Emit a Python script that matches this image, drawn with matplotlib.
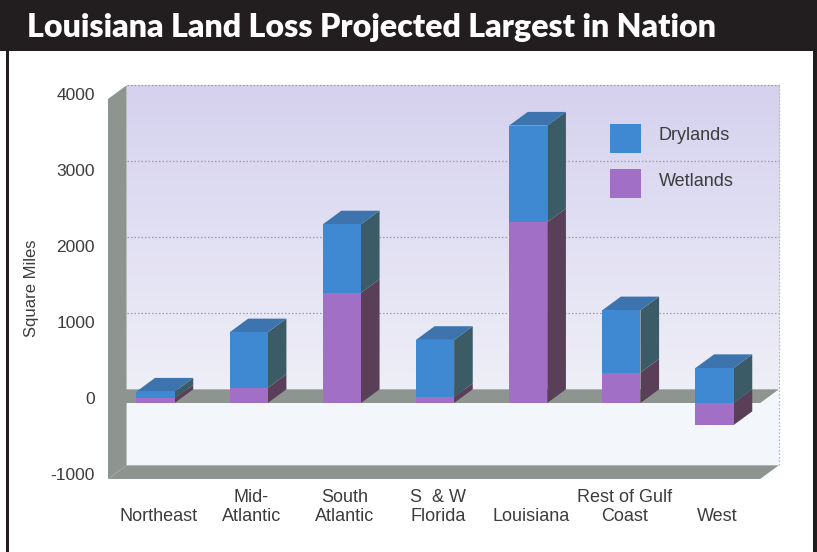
import matplotlib
matplotlib.use("Agg")
import matplotlib.pyplot as plt
import matplotlib.transforms as mtransforms
from matplotlib.patches import Polygon, Rectangle
import numpy as np

# ---- data (square miles of projected land loss) ----
regions = ["Northeast", "Mid-\nAtlantic", "South\nAtlantic", "S  & W\nFlorida",
           "Louisiana", "Rest of Gulf\nCoast", "West"]
wetlands = [60, 200, 1450, 80, 2380, 400, -290]
drylands = [90, 730, 900, 750, 1270, 820, 460]
y_ticks = [4000, 3000, 2000, 1000, 0, -1000]
series_names = ["Drylands", "Wetlands"]
title = "Louisiana Land Loss Projected Largest in Nation"
y_label = "Square Miles"

# ---- styling ----
W, H, DPI = 817, 552, 100
TEXT = "#3c3c3c"
FONT = ["Liberation Sans", "DejaVu Sans"]
DRY_FRONT, DRY_SIDE, DRY_TOP = "#3f88d2", "#3b5b66", "#3d74ad"
WET_FRONT, WET_SIDE, WET_TOP = "#a26fc6", "#5a3f58", "#7d559c"
SLAB = "#8e948f"

fig = plt.figure(figsize=(W / DPI, H / DPI), dpi=DPI)
fig.patch.set_facecolor("white")
ax = fig.add_axes([0, 0, 1, 1])

# axes spans the whole figure; category spacing and value scale set via limits
px_per_cat, px_per_unit = 93.17, 0.076
x0_px, y0_px = 155.5, 403
ax.set_xlim(-x0_px / px_per_cat, (W - x0_px) / px_per_cat)
ax.set_ylim((y0_px - H) / px_per_unit, y0_px / px_per_unit)
ax.axis("off")

DX, DY = 0.20, 180          # depth offset of the 3-D box (category units, sq mi)
xL, xR = -0.51, 6.49        # front edges of the chart box
ymin, ymax = -1000, 4000
bw = 0.41

# back wall with a lavender-to-white gradient
vals = np.linspace(ymax, ymin, 400)
top_c = np.array([0.835, 0.820, 0.935])
mid_c = np.array([0.935, 0.935, 0.970])
low_c = np.array([0.955, 0.966, 0.988])
grad = np.array([top_c + (mid_c - top_c) * (ymax - v) / ymax if v > 0 else low_c
                 for v in vals])
ax.imshow(grad[:, None, :], extent=[xL + DX, xR + DX, ymin + DY, ymax + DY],
          aspect="auto", zorder=0, interpolation="bilinear")

# dotted gridlines on the back wall
for v in [1000, 2000, 3000, 4000]:
    ax.plot([xL + DX, xR + DX], [v + DY, v + DY], color="#9c9cae",
            lw=0.9, ls=(0, (1.2, 1.6)), zorder=1)
ax.plot([xR + DX, xR + DX], [ymin + DY, ymax + DY], color="#b4b4c4",
        lw=0.9, ls=(0, (1.2, 1.6)), zorder=1)

# left wall, floor and zero plane
ax.add_patch(Polygon([(xL, ymin), (xL, ymax), (xL + DX, ymax + DY), (xL + DX, ymin + DY)],
                     closed=True, facecolor=SLAB, edgecolor="none", zorder=2))
for base in (ymin, 0):
    ax.add_patch(Polygon([(xL, base), (xR, base), (xR + DX, base + DY), (xL + DX, base + DY)],
                         closed=True, facecolor=SLAB, edgecolor="none", zorder=3))

# stacked 3-D bars: wetlands first, drylands on top (negatives stack downward)
x = np.arange(len(regions))
wet = np.array(wetlands, dtype=float)
dry = np.array(drylands, dtype=float)
wet_bottom = np.zeros_like(wet)
dry_bottom = np.where((wet >= 0) == (dry >= 0), wet, 0.0)

ax.bar(x, wet, bottom=wet_bottom, width=bw, color=WET_FRONT, zorder=5, linewidth=0)
ax.bar(x, dry, bottom=dry_bottom, width=bw, color=DRY_FRONT, zorder=5, linewidth=0)

for xi, wv, wb, dv, db in zip(x, wet, wet_bottom, dry, dry_bottom):
    right = xi + bw / 2
    segs = [(wb, wb + wv, WET_SIDE, WET_TOP), (db, db + dv, DRY_SIDE, DRY_TOP)]
    for y0, y1, side, _ in segs:
        lo, hi = min(y0, y1), max(y0, y1)
        ax.add_patch(Polygon([(right, lo), (right + DX, lo + DY),
                              (right + DX, hi + DY), (right, hi)],
                             closed=True, facecolor=side, edgecolor="none", zorder=4))
    # top face on the highest segment
    tops = [(max(y0, y1), topc) for y0, y1, _, topc in segs]
    t, topc = max(tops, key=lambda p: p[0])
    ax.add_patch(Polygon([(xi - bw / 2, t), (right, t), (right + DX, t + DY),
                          (xi - bw / 2 + DX, t + DY)],
                         closed=True, facecolor=topc, edgecolor="none", zorder=4))

# value axis labels
ytrans = mtransforms.blended_transform_factory(fig.transFigure, ax.transData)
for v in y_ticks:
    ax.text(95 / W, v + 40, f"{v}", transform=ytrans, ha="right", va="center",
            fontsize=12.5, color=TEXT, family=FONT)

# category labels, bottom lines aligned
xtrans = mtransforms.blended_transform_factory(ax.transData, fig.transFigure)
for xi, name in zip(x, regions):
    lbl = name if "\n" in name else "\n" + name
    ax.text(xi + 0.03, 1 - 489 / H, lbl, transform=xtrans, ha="center", va="top",
            fontsize=13, color=TEXT, family=FONT, linespacing=1.12,
            multialignment="center")

fig.text(32 / W, 1 - 288 / H, y_label, rotation=90, ha="center", va="center",
         fontsize=12, color=TEXT, family=FONT)

# legend
for name, col, ytop in zip(series_names, [DRY_FRONT, WET_FRONT], [124, 169]):
    fig.add_artist(Rectangle((610 / W, 1 - (ytop + 29) / H), 31 / W, 29 / H,
                             transform=fig.transFigure, facecolor=col, edgecolor="none"))
    fig.text(659 / W, 1 - (ytop + 12) / H, name, ha="left", va="center",
             fontsize=13, color=TEXT, family=FONT)

# title band and frame
fig.add_artist(Rectangle((0, 1 - 51 / H), 1, 51 / H, transform=fig.transFigure,
                         facecolor="#221e1f", edgecolor="none"))
fig.add_artist(Rectangle((6 / W, 0), 2.5 / W, 1 - 51 / H, transform=fig.transFigure,
                         facecolor="#221e1f", edgecolor="none"))
fig.add_artist(Rectangle((813 / W, 0), 4 / W, 1 - 51 / H, transform=fig.transFigure,
                         facecolor="#221e1f", edgecolor="none"))
t = fig.text(27 / W, 1 - 37 / H, title, ha="left", va="baseline", color="white",
             fontsize=22, fontweight="heavy", family=["Lato", "DejaVu Sans"])
renderer = fig.canvas.get_renderer()
width = t.get_window_extent(renderer).width
t.set_fontsize(22 * 690 / width)

fig.savefig("out.png", dpi=DPI, facecolor=fig.get_facecolor())
